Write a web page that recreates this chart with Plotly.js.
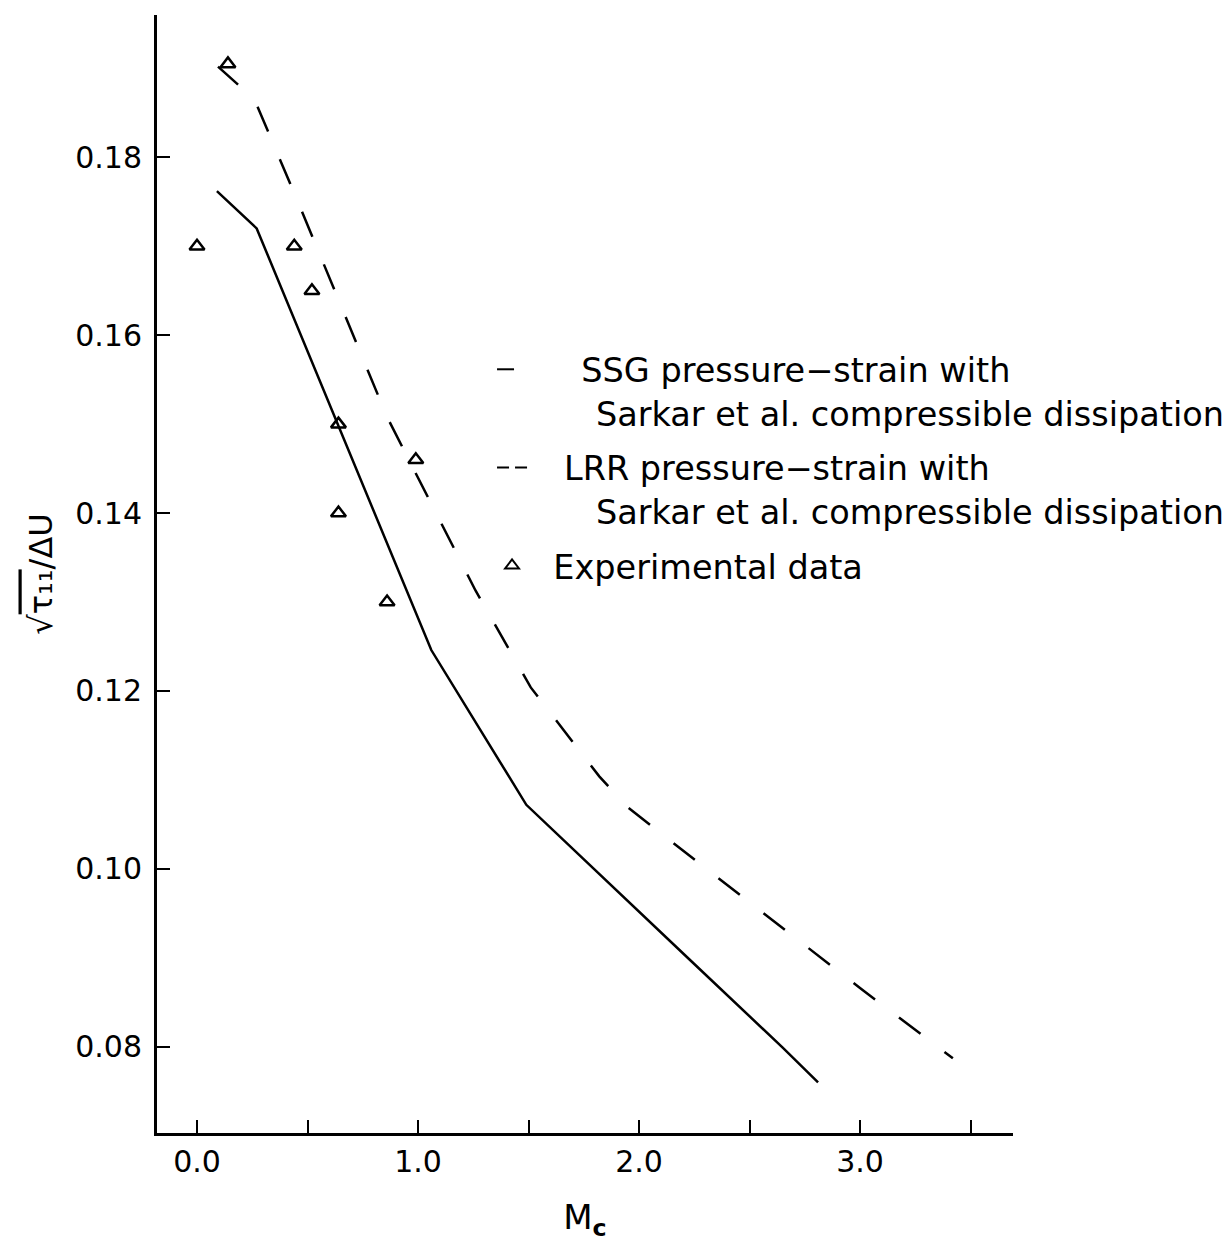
<!DOCTYPE html>
<html>
<head>
<meta charset="utf-8">
<script src="https://cdn.plot.ly/plotly-3.0.1.min.js"></script>
<style>html,body{margin:0;padding:0;background:#fff;}</style>
</head>
<body>
<div id="chart" style="width:1226px;height:1244px;"></div>
<script>
// SSG pressure-strain model (solid line)
const ssgMc = [0.09, 0.27, 1.06, 1.49, 2.22, 2.65, 2.81];
const ssgVal = [0.1762, 0.1720, 0.1246, 0.1072, 0.0900, 0.0799, 0.0760];

// LRR pressure-strain model (dashed line)
const lrrMc = [0.095, 0.26, 0.47, 0.86, 1.26, 1.51, 1.82, 1.95, 2.32, 3.01, 3.42];
const lrrVal = [0.1902, 0.1865, 0.1742, 0.1508, 0.1313, 0.1204, 0.1104, 0.1069, 0.0997, 0.0864, 0.0787];

// Experimental data (triangles)
const expMc = [0.0, 0.14, 0.44, 0.52, 0.64, 0.64, 0.86, 0.99];
const expVal = [0.170, 0.1905, 0.170, 0.165, 0.150, 0.140, 0.130, 0.146];

const xTickVals = [0, 1, 2, 3];
const xTickText = ["0.0", "1.0", "2.0", "3.0"];
const yTickVals = [0.08, 0.10, 0.12, 0.14, 0.16, 0.18];
const yTickText = ["0.08", "0.10", "0.12", "0.14", "0.16", "0.18"];

const NB = "\u00a0";
const sp = n => NB.repeat(n);

const font = "DejaVu Sans, sans-serif";

const ssgName = sp(4) + "\u2009SSG pressure\u2212strain with<br>" + sp(6) + "Sarkar et al. compressible dissipation";
const lrrName = sp(3) + "LRR pressure\u2212strain with<br>" + sp(6) + "Sarkar et al. compressible dissipation";
const expName = sp(2) + "Experimental data";

const traces = [
  {
    x: ssgMc, y: ssgVal, type: "scatter", mode: "lines",
    name: ssgName, showlegend: false,
    line: {color: "#000", width: 2.5}
  },
  {
    x: lrrMc, y: lrrVal, type: "scatter", mode: "lines",
    name: lrrName, showlegend: false,
    line: {color: "#000", width: 2.5, dash: "27px,30px"}
  },
  {
    x: expMc, y: expVal, type: "scatter", mode: "markers",
    name: expName, showlegend: false,
    marker: {symbol: "triangle-up-open", size: 13, color: "#000", line: {color: "#000", width: 2.5}}
  },
  // legend keys (no data drawn)
  {
    x: [null], y: [null], type: "scatter", mode: "lines",
    name: ssgName, legendgroup: "a",
    line: {color: "#000", width: 2, dash: "17px,100px"}
  },
  {
    x: [null], y: [null], type: "scatter", mode: "lines",
    name: lrrName, legendgroup: "b",
    line: {color: "#000", width: 2, dash: "12px,6px"}
  },
  {
    x: [null], y: [null], type: "scatter", mode: "markers",
    name: expName, legendgroup: "c",
    marker: {symbol: "triangle-up-open", size: 12, color: "#000", line: {color: "#000", width: 2}}
  }
];

const layout = {
  width: 1226, height: 1244,
  margin: {l: 157, r: 213, t: 15, b: 111, autoexpand: false},
  paper_bgcolor: "#fff", plot_bgcolor: "#fff",
  font: {family: font, color: "#000", size: 30},
  showlegend: true,
  legend: {
    x: 0.3914, y: 0.7084, xanchor: "left", yanchor: "top",
    bgcolor: "rgba(0,0,0,0)", borderwidth: 0,
    font: {family: font, size: 33.5, color: "#000"},
    valign: "top", tracegroupgap: 8
  },
  xaxis: {
    range: [-0.181, 3.692], automargin: false,
    tickmode: "array", tickvals: xTickVals, ticktext: xTickText,
    ticks: "inside", ticklen: 13, tickwidth: 2, tickcolor: "#000",
    minor: {tick0: 0, dtick: 0.5, ticks: "inside", ticklen: 13, tickwidth: 2, tickcolor: "#000", showgrid: false},
    showline: true, linewidth: 3, linecolor: "#000",
    showgrid: false, zeroline: false,
    tickfont: {family: font, size: 30},
    title: {text: "M<sub><b>c</b></sub>", font: {family: font, size: 34}, standoff: 28}
  },
  yaxis: {
    range: [0.0703, 0.196], automargin: false,
    tickmode: "array", tickvals: yTickVals, ticktext: yTickText,
    ticks: "inside", ticklen: 13, tickwidth: 2, tickcolor: "#000",
    showline: true, linewidth: 3, linecolor: "#000",
    showgrid: false, zeroline: false,
    tickfont: {family: font, size: 30},
    ticklabelstandoff: 6,
    title: {text: "\u221a<span style=\"text-decoration:overline\">\u03c4\u2081\u2081</span>/\u0394U", font: {family: font, size: 32}, standoff: 14}
  }
};

Plotly.newPlot("chart", traces, layout, {displayModeBar: false, staticPlot: true});
</script>
</body>
</html>
